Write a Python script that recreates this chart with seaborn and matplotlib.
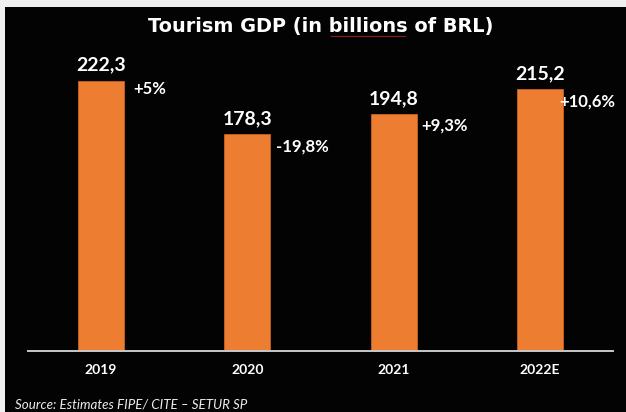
import numpy as np
import pandas as pd
import matplotlib
matplotlib.use("Agg")
import matplotlib.pyplot as plt
from matplotlib.patches import Rectangle
from matplotlib.lines import Line2D
from matplotlib.transforms import IdentityTransform
import seaborn as sns

# Tourism GDP, billions of BRL
years = ["2019", "2020", "2021", "2022E"]
gdp = [222.3, 178.3, 194.8, 215.2]
gdp_labels = ["222,3", "178,3", "194,8", "215,2"]
growth_labels = ["+5%", "-19,8%", "+9,3%", "+10,6%"]

# label offsets from each bar's top-right corner, in pixels
growth_offsets = [(9, -13.3), (5.4, -17.4), (5, -16), (-4, -17.4)]

sns.set_theme(style="white")
plt.rcParams["font.family"] = ["Lato", "DejaVu Sans"]

W, H = 626, 412
BG = "#030303"
ORANGE = "#ED7D31"

fig = plt.figure(figsize=(W / 100, H / 100), dpi=100, facecolor="#f0f0f0")
fig.patches.append(Rectangle((5 / W, 0), 1, (H - 7) / H, transform=fig.transFigure,
                             facecolor=BG, edgecolor="none", zorder=-5))

ax = fig.add_axes([28 / W, (H - 351.3) / H, 585 / W, 311 / H])
ax.set_zorder(1)
ax.patch.set_visible(False)

df = pd.DataFrame({"year": years, "gdp": gdp})
sns.barplot(data=df, x="year", y="gdp", color=ORANGE, saturation=1, width=0.314,
            edgecolor="#c8631f", linewidth=0.6, ax=ax)

ax.set_xlim(-0.5, len(years) - 0.5)
ax.set_ylim(0, 255.5)
ax.set_xlabel("")
ax.set_ylabel("")
ax.set_yticks([])
for side in ["left", "right", "top"]:
    ax.spines[side].set_visible(False)
ax.spines["bottom"].set_color("#c8c8c8")
ax.spines["bottom"].set_linewidth(1.4)
ax.tick_params(axis="x", length=0, pad=9, labelsize=10, labelcolor="white")
for lbl in ax.get_xticklabels():
    lbl.set_fontweight("bold")

half = 0.314 / 2
for i, (v, vl, gl, (dx, dy)) in enumerate(zip(gdp, gdp_labels, growth_labels, growth_offsets)):
    ax.annotate(vl, xy=(i, v), xytext=(0, 10), textcoords="offset pixels",
                ha="center", va="baseline", color="white", fontsize=14, fontweight="bold")
    ax.annotate(gl, xy=(i + half, v), xytext=(dx, dy), textcoords="offset pixels",
                ha="left", va="baseline", color="white", fontsize=12, fontweight="bold")

title_txt = "Tourism GDP (in billions of BRL)"
title = fig.text(321 / W, (H - 32.3) / H, title_txt, ha="center", va="baseline",
                 color="white", fontsize=13.9, fontweight="bold", family="DejaVu Sans",
                 zorder=3)

fig.text(15 / W, (H - 408.3) / H, "Source: Estimates FIPE/ CITE \u2013 SETUR SP",
         ha="left", va="baseline", color="#ececec", fontsize=9.6, style="italic",
         fontweight="normal", zorder=3)

# spell-check style squiggle under "billions"
fig.canvas.draw()
r = fig.canvas.get_renderer()


def text_width(s):
    t = fig.text(0, 0, s, fontproperties=title.get_fontproperties())
    w = t.get_window_extent(r).width
    t.remove()
    return w


tb = title.get_window_extent(r)
x_end = tb.x0 + text_width("Tourism GDP (in billions")
x_start = x_end - text_width("billions")
y0 = H - 36.7
xs = np.arange(x_start + 2, x_end - 1 + 0.1, 1.0)
ys = y0 + 0.5 * (np.arange(len(xs)) % 2)
fig.lines.append(Line2D(xs, ys, transform=IdentityTransform(), color="#c02828",
                        lw=0.6, alpha=0.85, zorder=4))

fig.savefig("out.png", dpi=100, facecolor=fig.get_facecolor())
